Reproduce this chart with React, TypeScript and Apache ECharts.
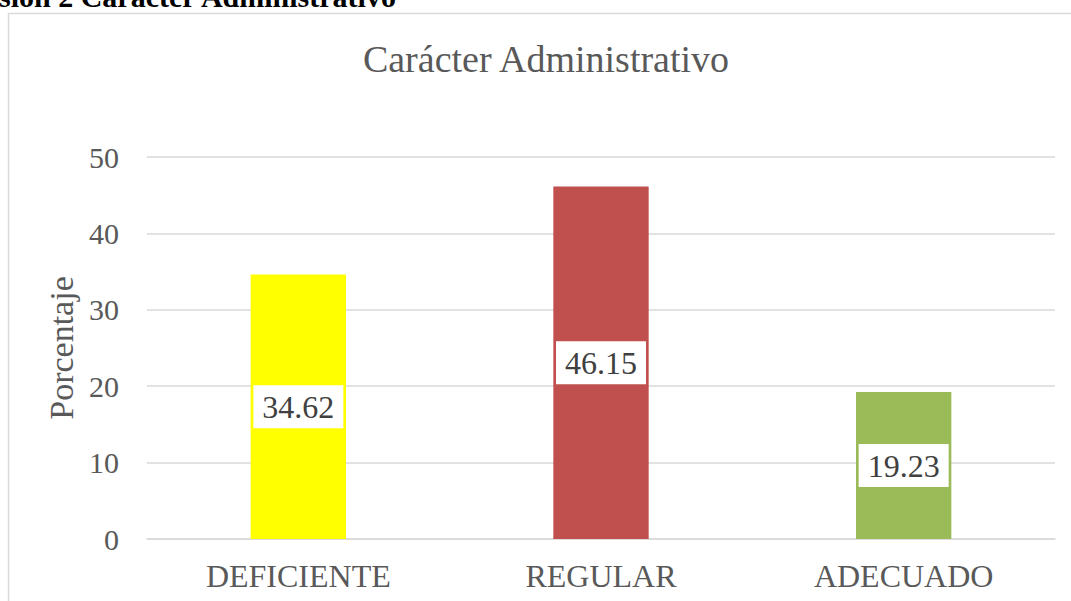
import React, { useEffect, useRef } from "react";
import * as echarts from "echarts";

const categories = ["DEFICIENTE", "REGULAR", "ADECUADO"];
const values = [34.62, 46.15, 19.23];
const barColors = ["#FFFF00", "#C0504D", "#9BBB59"];
const yTicks = [0, 10, 20, 30, 40, 50];
const chartTitle = "Carácter Administrativo";
const yAxisName = "Porcentaje";
const captionText = "sión 2 Carácter Administrativo";

const FONT = "'Liberation Serif', 'Times New Roman', serif";

export default function App() {
  const ref = useRef<HTMLDivElement>(null);
  useEffect(() => {
    if (!ref.current) return;
    const chart = echarts.init(ref.current, null, { renderer: "svg" });
    chart.setOption({
      animation: false,
      backgroundColor: "#ffffff",
      textStyle: { fontFamily: FONT },
      grid: { left: 147, right: 16, top: 157, bottom: 62 },
      graphic: [
        {
          type: "rect",
          shape: { x: 8.5, y: 13.5, width: 1080, height: 600 },
          style: { fill: "none", stroke: "#d9d9d9", lineWidth: 1.5 },
          z: 0,
        },
        {
          type: "text",
          x: -1,
          y: 11,
          style: {
            text: captionText,
            font: `bold 30px ${FONT}`,
            fill: "#000000",
            textAlign: "left",
            textVerticalAlign: "bottom",
          },
        },
        {
          type: "text",
          x: 546,
          y: 59,
          style: {
            text: chartTitle,
            font: `38px ${FONT}`,
            fill: "#595959",
            textAlign: "center",
            textVerticalAlign: "middle",
          },
        },
      ],
      xAxis: {
        type: "category",
        data: categories,
        axisLine: { lineStyle: { color: "#d9d9d9", width: 1.5 } },
        axisTick: { show: false },
        axisLabel: { color: "#595959", fontSize: 32, fontFamily: FONT, margin: 21 },
      },
      yAxis: {
        type: "value",
        min: 0,
        max: 50,
        interval: 10,
        name: yAxisName,
        nameLocation: "middle",
        nameGap: 67,
        nameTextStyle: { color: "#595959", fontSize: 34, fontFamily: FONT },
        axisLine: { show: false },
        axisTick: { show: false },
        splitLine: { lineStyle: { color: "#d9d9d9", width: 1.5 } },
        axisLabel: {
          color: "#595959",
          fontSize: 30,
          fontFamily: FONT,
          margin: 28,
          formatter: (v: number) => (yTicks.includes(v) ? String(v) : ""),
        },
      },
      series: [
        {
          type: "bar",
          data: values.map((v, i) => ({ value: v, itemStyle: { color: barColors[i] } })),
          barWidth: "31.5%",
          label: {
            show: true,
            position: "inside",
            formatter: (p: any) => p.value.toFixed(2),
            color: "#404040",
            fontSize: 32,
            fontFamily: FONT,
            backgroundColor: "#ffffff",
            padding: [6, 9, 5, 9],
          },
        },
      ],
    });
    return () => chart.dispose();
  }, []);
  return (
    <div
      ref={ref}
      style={{ position: "fixed", left: 0, top: 0, width: 1071, height: 601 }}
    />
  );
}
